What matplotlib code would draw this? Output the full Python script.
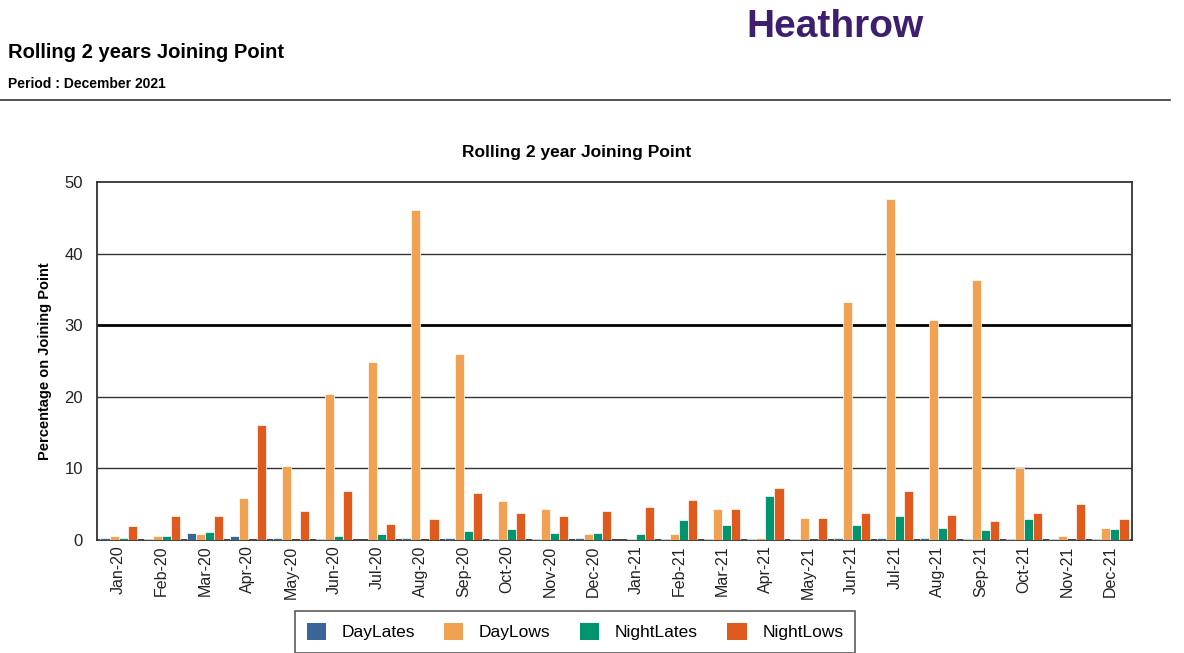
import numpy as np
import matplotlib
matplotlib.use("Agg")
import matplotlib.pyplot as plt
from matplotlib.patches import Patch

plt.rcParams["font.family"] = ["Liberation Sans", "DejaVu Sans"]

months = ["Jan-20", "Feb-20", "Mar-20", "Apr-20", "May-20", "Jun-20", "Jul-20", "Aug-20",
          "Sep-20", "Oct-20", "Nov-20", "Dec-20", "Jan-21", "Feb-21", "Mar-21", "Apr-21",
          "May-21", "Jun-21", "Jul-21", "Aug-21", "Sep-21", "Oct-21", "Nov-21", "Dec-21"]
day_lates   = [0.3, 0.15, 1.0, 0.6, 0.3, 0.15, 0.0, 0.3, 0.3, 0.15, 0.15, 0.3,
               0.0, 0.15, 0.15, 0.15, 0.15, 0.3, 0.3, 0.3, 0.15, 0.15, 0.15, 0.15]
day_lows    = [0.6, 0.6, 0.8, 5.9, 10.4, 20.4, 24.9, 46.1, 26.0, 5.5, 4.3, 0.8,
               0.15, 0.8, 4.3, 0.3, 3.1, 33.3, 47.6, 30.7, 36.3, 10.1, 0.6, 1.7]
night_lates = [0.3, 0.6, 1.1, 0.0, 0.0, 0.6, 0.8, 0.0, 1.2, 1.5, 1.0, 1.0,
               0.8, 2.8, 2.1, 6.2, 0.0, 2.1, 3.3, 1.7, 1.4, 3.0, 0.0, 1.5]
night_lows  = [2.0, 3.3, 3.3, 16.1, 4.1, 6.9, 2.3, 3.0, 6.6, 3.8, 3.3, 4.1,
               4.6, 5.6, 4.3, 7.2, 3.1, 3.8, 6.8, 3.5, 2.7, 3.8, 5.0, 3.0]
series = ["DayLates", "DayLows", "NightLates", "NightLows"]
colors = ["#3a6599", "#f0a252", "#00956e", "#e05a1e"]

fig = plt.figure(figsize=(11.84, 6.53), dpi=100)

# page header
fig.text(8 / 1184, 1 - 53 / 653, "Rolling 2 years Joining Point", fontsize=14.5, fontweight="bold",
         va="center", ha="left")
fig.text(8 / 1184, 1 - 84 / 653, "Period : December 2021", fontsize=10, fontweight="bold",
         va="center", ha="left")
fig.text(835 / 1184, 1 - 27 / 653, "Heathrow", fontsize=28, fontweight="bold", color="#3d1f6e",
         va="center", ha="center")
fig.add_artist(plt.Line2D([0, 1170 / 1184], [1 - 100 / 653] * 2, color="#333333", lw=1.2))

ax = fig.add_axes([97 / 1184, 113 / 653, 1035 / 1184, 358 / 653])
x = np.arange(len(months))
w = 0.21
for i, (vals, col) in enumerate(zip([day_lates, day_lows, night_lates, night_lows], colors)):
    ax.bar(x + (i - 1.5) * w, vals, width=w, color=col, edgecolor="white", linewidth=0.5, zorder=3)

for v in [10, 20, 40]:
    ax.axhline(v, color="#333333", lw=1.0, zorder=1)
ax.axhline(30, color="black", lw=2.0, zorder=1)

ax.set_xlim(-0.5, len(months) - 0.5)
ax.set_ylim(0, 50)
ax.set_yticks([0, 10, 20, 30, 40, 50])
ax.set_xticks(x)
ax.set_xticklabels(months, rotation=90, fontsize=11)
ax.tick_params(axis="both", length=0, labelsize=12, colors="#222222", pad=10)
ax.tick_params(axis="x", pad=4, labelsize=11.5)
for s in ax.spines.values():
    s.set_color("#333333")
    s.set_linewidth(1.3)
ax.set_ylabel("Percentage on Joining Point", fontsize=10.5, fontweight="bold", labelpad=9)
fig.text(577 / 1184, 1 - 152 / 653, "Rolling 2 year Joining Point", fontsize=12.5, fontweight="bold",
         va="center", ha="center")

handles = [Patch(facecolor=c, label=s) for s, c in zip(series, colors)]
leg = fig.legend(handles=handles, loc="upper center", bbox_to_anchor=(575 / 1184, 1 - 611 / 653), ncol=4,
                 frameon=True, fancybox=False, fontsize=12.5, handlelength=1.1, handleheight=1.1,
                 handletextpad=0.9, columnspacing=1.7, borderpad=0.7, borderaxespad=0,
                 edgecolor="#333333")
leg.get_frame().set_linewidth(1.2)

fig.savefig("out.png", dpi=100)
